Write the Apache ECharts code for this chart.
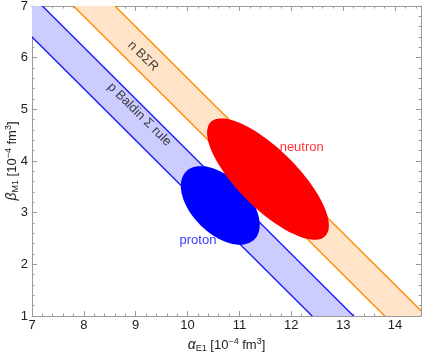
<!DOCTYPE html>
<html>
<head>
<meta charset="utf-8">
<script src="https://cdn.jsdelivr.net/npm/echarts@6/dist/echarts.min.js"></script>
<style>
  html, body { margin: 0; padding: 0; background: #fff; }
  #chart { width: 422px; height: 358px; }
</style>
</head>
<body>
<div id="chart"></div>
<script>
// Baldin sum-rule bands: alpha + beta = sum ± halfWidth  [10^-4 fm^3]
const bandNames = ['proton', 'neutron'];
const bandSum = [13.8, 15.2];
const bandHalfWidth = [0.4, 0.4];

// fitted regions (ellipses): centre, semi-axes in data units, tilt in degrees
const ellipseNames = ['proton', 'neutron'];
const ellipseCx = [10.63, 11.55];
const ellipseCy = [3.14, 3.65];
const ellipseA = [0.93, 1.56];
const ellipseB = [0.54, 0.57];
const ellipseTilt = [-45, -45];

// text annotations
const noteText = ['p Baldin Σ rule', 'n BΣR', 'proton', 'neutron'];
const noteX = [9.07, 9.14, 10.2, 12.2];
const noteY = [4.90, 6.03, 2.46, 4.27];

const FONT = '"Liberation Sans", Arial, sans-serif';
const FRAME = '#9a9a9a';
const TXT = '#222';
const BAND_LINE = ['#1a1aff', '#ff8c00'];
const BAND_FILL = ['#ccccff', '#ffe4c9'];
const ELLIPSE_FILL = ['#0000ff', '#ff0000'];
const NOTE_COLOR = ['#111', '#111', '#0000ff', '#ff0000'];
const NOTE_ROT = [-44.7, -44.7, 0, 0];

const chart = echarts.init(document.getElementById('chart'), null, { renderer: 'canvas' });

const RICH = {
  i: { fontStyle: 'italic', fontSize: 14, fontFamily: FONT, color: TXT, lineHeight: 16, verticalAlign: 'middle' },
  s: { fontSize: 9, fontFamily: FONT, color: TXT, lineHeight: 9, verticalAlign: 'bottom' },
  p: { fontSize: 9, fontFamily: FONT, color: TXT, lineHeight: 9, verticalAlign: 'top' },
  t: { fontSize: 13, fontFamily: FONT, color: TXT, lineHeight: 16, verticalAlign: 'middle' },
};

const xBase = { type: 'value', min: 7, max: 14.5, splitLine: { show: false } };
const yBase = { type: 'value', min: 1, max: 7, interval: 1, splitLine: { show: false } };

const majorX = (pos, labels) => ({
  ...xBase,
  position: pos,
  interval: 1,
  axisLine: { show: true, lineStyle: { color: FRAME, width: 1 } },
  axisTick: { show: true, inside: true, length: 5, lineStyle: { color: FRAME } },
  axisLabel: { show: labels, color: TXT, fontSize: 13, fontFamily: FONT, margin: 3, showMaxLabel: false },
});
const minorX = (pos) => ({
  ...xBase,
  position: pos,
  interval: 0.2,
  axisLine: { show: false },
  axisTick: { show: true, inside: true, length: 2.5, lineStyle: { color: FRAME } },
  axisLabel: { show: false },
});
const frameY = (pos, labels) => ({
  ...yBase,
  position: pos,
  axisLine: { show: true, lineStyle: { color: FRAME, width: 1 } },
  axisTick: { show: true, inside: true, length: 5, lineStyle: { color: FRAME } },
  minorTick: { show: true, splitNumber: 5, length: 2.5, lineStyle: { color: FRAME } },
  axisLabel: { show: labels, color: TXT, fontSize: 13, fontFamily: FONT, margin: 4 },
});

const xAxes = [majorX('bottom', true), minorX('bottom'), majorX('top', false), minorX('top')];
xAxes[0].name = '{i|α}{s|E1}{t| [10}{p|−4}{t| fm}{p|3}{t|]}';
xAxes[0].nameLocation = 'middle';
xAxes[0].nameGap = 21;
xAxes[0].nameMoveOverlap = false;
xAxes[0].nameTextStyle = { rich: RICH };

const yAxes = [frameY('left', true), frameY('right', false)];
yAxes[0].name = '{i|β}{s|M1}{t| [10}{p|−4}{t| fm}{p|3}{t|]}';
yAxes[0].nameLocation = 'middle';
yAxes[0].nameGap = 12;
yAxes[0].nameMoveOverlap = false;
yAxes[0].nameTextStyle = { rich: RICH };

chart.setOption({
  backgroundColor: '#fff',
  animation: false,
  grid: { left: 32, right: 1, top: 6, bottom: 42, containLabel: false, outerBoundsMode: 'none' },
  xAxis: xAxes,
  yAxis: yAxes,
  series: [
    {
      // sum-rule strips, clipped to the frame
      type: 'custom',
      clip: true,
      silent: true,
      data: bandNames.map((n, i) => ({ name: n, value: [bandSum[i], bandHalfWidth[i], i] })),
      renderItem: (params, api) => {
        const s = api.value(0);
        const w = api.value(1);
        const k = api.value(2);
        const xs = [6, 16];
        const lo = xs.map((x) => api.coord([x, s - w - x]));
        const hi = xs.map((x) => api.coord([x, s + w - x]));
        return {
          type: 'group',
          children: [
            { type: 'polygon', shape: { points: [lo[0], lo[1], hi[1], hi[0]] }, style: { fill: BAND_FILL[k] } },
            { type: 'polyline', shape: { points: lo }, style: { stroke: BAND_LINE[k], lineWidth: 1.4, fill: null } },
            { type: 'polyline', shape: { points: hi }, style: { stroke: BAND_LINE[k], lineWidth: 1.4, fill: null } },
          ],
        };
      },
    },
    {
      // fitted regions
      type: 'custom',
      clip: true,
      silent: true,
      data: ellipseNames.map((n, i) => ({
        name: n,
        value: [ellipseCx[i], ellipseCy[i], ellipseA[i], ellipseB[i], ellipseTilt[i], i],
      })),
      renderItem: (params, api) => {
        const cx = api.value(0), cy = api.value(1);
        const a = api.value(2), b = api.value(3);
        const th = api.value(4) * Math.PI / 180;
        const k = api.value(5);
        const pts = [];
        for (let j = 0; j < 120; j++) {
          const t = j / 120 * Math.PI * 2;
          const dx = a * Math.cos(t), dy = b * Math.sin(t);
          pts.push(api.coord([
            cx + dx * Math.cos(th) - dy * Math.sin(th),
            cy + dx * Math.sin(th) + dy * Math.cos(th),
          ]));
        }
        return { type: 'polygon', shape: { points: pts }, style: { fill: ELLIPSE_FILL[k] } };
      },
    },
    {
      type: 'scatter',
      silent: true,
      symbolSize: 0,
      data: noteText.map((t, i) => ({
        name: t,
        value: [noteX[i], noteY[i]],
        label: { rotate: NOTE_ROT[i], color: NOTE_COLOR[i] },
      })),
      label: {
        show: true,
        position: 'inside',
        formatter: (p) => p.name,
        fontSize: 13,
        fontFamily: FONT,
      },
    },
  ],
});
</script>
</body>
</html>
